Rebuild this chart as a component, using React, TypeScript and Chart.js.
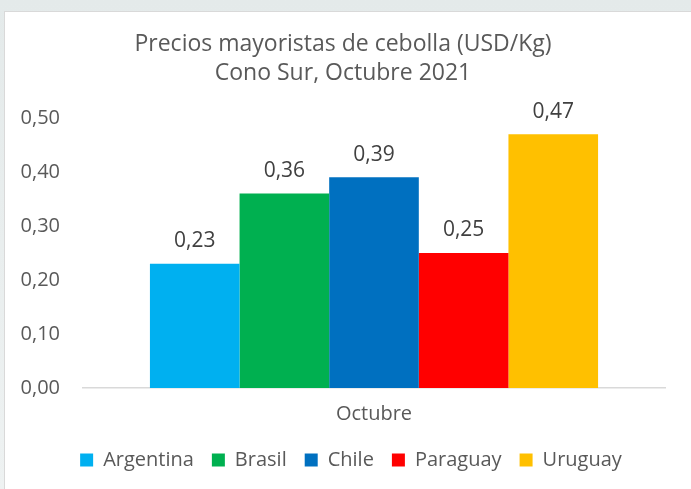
import React, { useEffect, useRef } from "react";
import { Chart, registerables } from "chart.js";

Chart.register(...registerables);

const categories = ["Octubre"];
const countries = ["Argentina", "Brasil", "Chile", "Paraguay", "Uruguay"];
const values = [0.23, 0.36, 0.39, 0.25, 0.47];
const colors = ["#00B0F0", "#00B050", "#0070C0", "#FF0000", "#FFC000"];
const titleLines = ["Precios mayoristas de cebolla (USD/Kg)", "Cono Sur, Octubre 2021"];

const FONT = "'Open Sans', 'Noto Sans', sans-serif";
const fmt = (v: number) => v.toFixed(2).replace(".", ",");

const labelPlugin = {
  id: "valueLabels",
  afterLayout(chart: any) {
    if (chart.legend) {
      chart.legend.left += 8;
      chart.legend.right += 8;
    }
  },
  afterDatasetsDraw(chart: any) {
    const ctx = chart.ctx;
    ctx.save();
    ctx.font = `21px ${FONT}`;
    ctx.fillStyle = "#404040";
    ctx.textAlign = "center";
    ctx.textBaseline = "bottom";
    chart.data.datasets.forEach((ds: any, i: number) => {
      const meta = chart.getDatasetMeta(i);
      meta.data.forEach((el: any, j: number) => {
        ctx.fillText(fmt(ds.data[j]), el.x, el.y - 12);
      });
    });
    ctx.restore();
  },
};

export default function App() {
  const ref = useRef<HTMLCanvasElement>(null);
  useEffect(() => {
    if (!ref.current) return;
    const chart = new Chart(ref.current, {
      type: "bar",
      data: {
        labels: categories,
        datasets: countries.map((c, i) => ({
          label: c,
          data: [values[i]],
          backgroundColor: colors[i],
          borderWidth: 0,
          categoryPercentage: 0.77,
          barPercentage: 1,
        })),
      },
      options: {
        animation: false,
        responsive: false,
        maintainAspectRatio: false,
        layout: { padding: { left: 16, right: 26, top: 14, bottom: 8 } },
        plugins: {
          title: {
            display: true,
            text: titleLines,
            color: "#595959",
            font: { family: FONT, size: 23, weight: "normal", lineHeight: 1.26 },
            padding: { top: 4, bottom: 30 },
          },
          legend: {
            position: "bottom",
            labels: {
              color: "#595959",
              font: { family: FONT, size: 20 },
              boxWidth: 13,
              boxHeight: 13,
              padding: 18,
            },
          },
          tooltip: { enabled: false },
        },
        scales: {
          x: {
            grid: { display: false },
            border: { display: true, color: "#D9D9D9", width: 1.5 },
            ticks: { color: "#595959", font: { family: FONT, size: 20 }, padding: 6 },
            afterFit: (s: any) => {
              s.paddingLeft = 0;
              s.paddingRight = 0;
            },
          },
          y: {
            min: 0,
            max: 0.5,
            grid: { display: false, drawTicks: false },
            border: { display: false },
            ticks: {
              stepSize: 0.1,
              color: "#595959",
              font: { family: FONT, size: 20 },
              padding: 23,
              callback: (v: any) => fmt(Number(v)),
            },
            afterFit: (s: any) => {
              s.width = 62;
            },
          },
        },
      },
      plugins: [labelPlugin],
    });
    return () => chart.destroy();
  }, []);

  return (
    <div
      style={{
        position: "fixed",
        left: 0,
        top: 0,
        width: 691,
        height: 489,
        background: "linear-gradient(180deg, #e4eaea 0%, #eef2f2 100%)",
        overflow: "hidden",
      }}
    >
      <div
        style={{
          position: "absolute",
          left: 4,
          top: 11,
          width: 690,
          height: 480,
          background: "#fff",
          border: "1px solid #d9d9d9",
          boxSizing: "border-box",
        }}
      >
        <canvas ref={ref} width={686} height={476} style={{ display: "block" }} />
      </div>
    </div>
  );
}
